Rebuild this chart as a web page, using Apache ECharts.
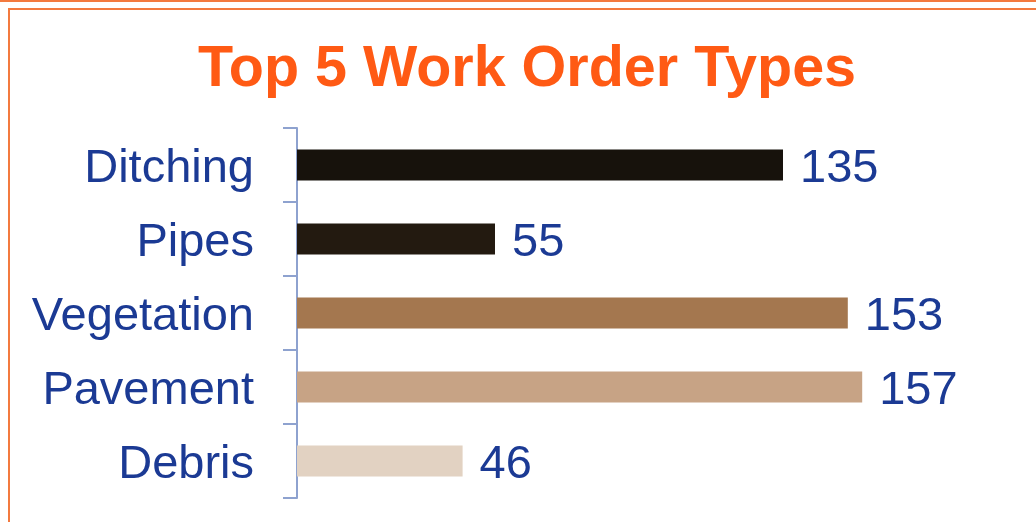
<!DOCTYPE html>
<html>
<head>
<meta charset="utf-8">
<script src="https://cdn.jsdelivr.net/npm/echarts@6/dist/echarts.min.js"></script>
<style>
  html, body { margin: 0; padding: 0; background: #fff; }
  #chart { width: 1036px; height: 522px; }
</style>
</head>
<body>
<div id="chart"></div>
<script>
// data
const categories = ['Ditching', 'Pipes', 'Vegetation', 'Pavement', 'Debris'];
const counts = [135, 55, 153, 157, 46];
const barColors = ['#17120c', '#231a10', '#a4774f', '#c7a385', '#e2d2c2'];

const chart = echarts.init(document.getElementById('chart'));
const font = '"Liberation Sans", Arial, sans-serif';
const orange = '#f37a3f';

chart.setOption({
  animation: false,
  title: {
    text: 'Top 5 Work Order Types',
    left: 522,
    textAlign: 'center',
    top: 36,
    textStyle: { color: '#ff5a14', fontSize: 57.5, fontWeight: 'bold', fontFamily: font }
  },
  // frame lines of the slide
  graphic: [
    { type: 'rect', shape: { x: 0, y: 0, width: 1036, height: 2 }, style: { fill: orange } },
    { type: 'rect', shape: { x: 8, y: 8, width: 1028, height: 2 }, style: { fill: orange } },
    { type: 'rect', shape: { x: 8, y: 8, width: 2, height: 514 }, style: { fill: orange } }
  ],
  grid: { left: 297, right: 19, top: 128, bottom: 24 },
  xAxis: {
    type: 'value',
    min: 0,
    max: 200,
    show: false
  },
  yAxis: {
    type: 'category',
    inverse: true,
    data: categories,
    axisLine: { lineStyle: { color: '#8ea2cf', width: 2 } },
    axisTick: { show: true, length: 14, lineStyle: { color: '#8ea2cf', width: 2 } },
    axisLabel: {
      margin: 43,
      formatter: (v) => `{c|${v}}`,
      rich: {
        // nudge the names down a little to sit on the bars
        c: { color: '#1b3a94', fontSize: 47, fontFamily: font, padding: [8, 0, 0, 0] }
      }
    }
  },
  series: [{
    type: 'bar',
    barWidth: 31,
    data: counts.map((v, i) => ({ value: v, itemStyle: { color: barColors[i] } })),
    label: {
      show: true,
      position: 'right',
      distance: 17,
      offset: [0, 4],
      color: '#1b3a94',
      fontSize: 47,
      fontFamily: font
    }
  }]
});
</script>
</body>
</html>
